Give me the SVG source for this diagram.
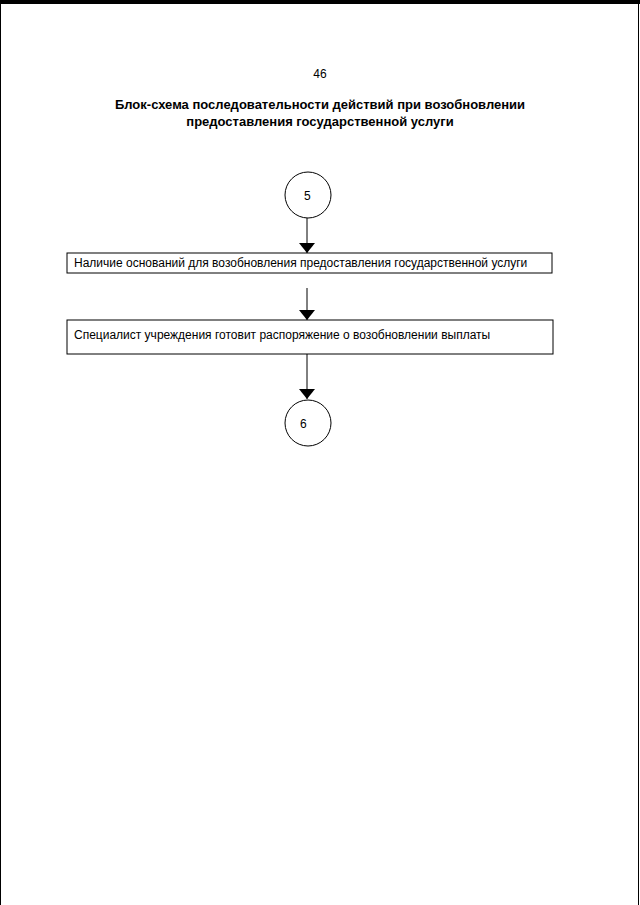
<svg xmlns="http://www.w3.org/2000/svg" width="640" height="905" viewBox="0 0 640 905">
<style>
text{font-family:"Liberation Sans",Arial,sans-serif;fill:#000}
.t{font-size:12px}
.h{font-size:13px;font-weight:bold}
.n{fill:#fff;stroke:#000;stroke-width:1}
.c{stroke:#000;stroke-width:1;fill:none}
</style>
<defs>
<marker id="ar" markerWidth="10" markerHeight="16" refX="10" refY="8" orient="auto" markerUnits="userSpaceOnUse">
<path d="M0,0 L10,8 L0,16 Z" fill="#000"/>
</marker>
</defs>
<rect x="0" y="0" width="640" height="905" fill="#fff"/>
<rect x="0" y="0" width="640" height="4" fill="#000"/>
<line x1="0.5" y1="0" x2="0.5" y2="905" stroke="#000"/>
<line x1="638.5" y1="0" x2="638.5" y2="905" stroke="#000"/>
<text x="320" y="78" class="t" text-anchor="middle" font-size="13">46</text>
<text x="320" y="109" class="h" text-anchor="middle">Блок-схема последовательности действий при возобновлении</text>
<text x="320" y="126" class="h" text-anchor="middle">предоставления государственной услуги</text>
<g id="connectors">
<line class="c" x1="307" y1="218" x2="307" y2="253" marker-end="url(#ar)"/>
<line class="c" x1="307" y1="288" x2="307" y2="320" marker-end="url(#ar)"/>
<line class="c" x1="307" y1="354" x2="307" y2="399" marker-end="url(#ar)"/>
</g>
<g id="n5"><circle class="n" cx="308" cy="195" r="23"/><text x="304" y="200" class="t">5</text></g>
<g id="b1"><rect class="n" x="67" y="253" width="485" height="20"/><text x="74" y="267" class="t">Наличие оснований для возобновления предоставления государственной услуги</text></g>
<g id="b2"><rect class="n" x="67" y="320" width="486" height="34"/><text x="74" y="339" class="t">Специалист учреждения готовит распоряжение о возобновлении выплаты</text></g>
<g id="n6"><circle class="n" cx="308" cy="423" r="23"/><text x="300" y="428" class="t">6</text></g>
</svg>
